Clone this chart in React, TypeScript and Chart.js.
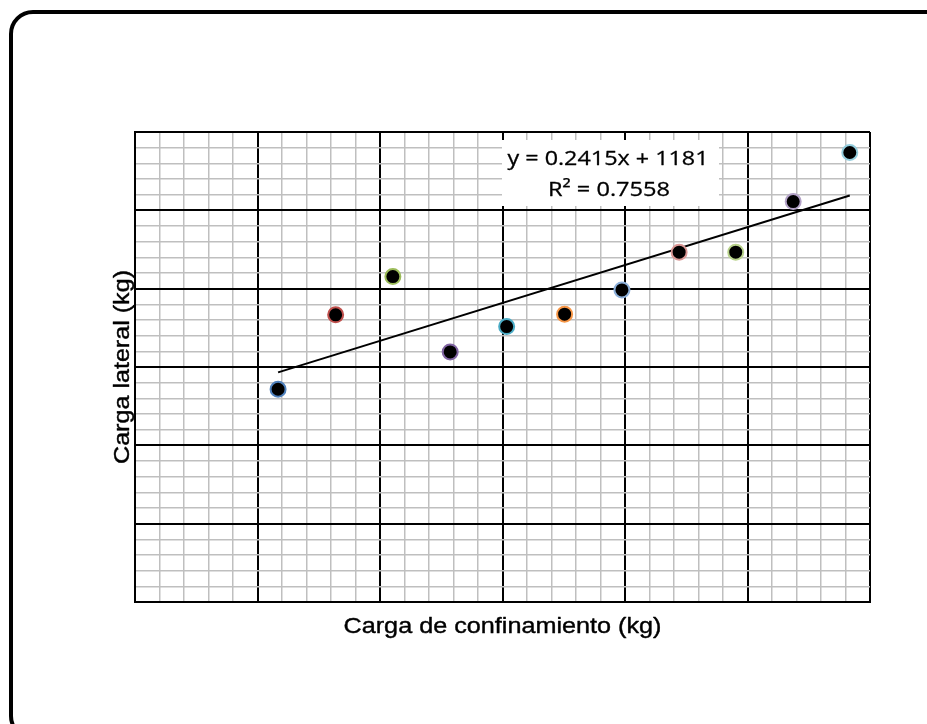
import React, { useEffect, useRef } from "react";
import { Chart, registerables } from "chart.js";

Chart.register(...registerables);

// Carga de confinamiento (kg)
const confinementLoad = [1168, 1638, 2105, 2573, 3034, 3507, 3975, 4442, 4904, 5373, 5835];
// Carga lateral (kg)
const lateralLoad = [1358, 1833, 2077, 1596, 1758, 1837, 1992, 2233, 2233, 2556, 2869];
const markerBorderColors = [
  "#4F81BD", "#C0504D", "#9BBB59", "#8064A2", "#4BACC6", "#F79646",
  "#8DB0DA", "#D99694", "#B9D38C", "#B3A2C7", "#93CDDD",
];

const xTitle = "Carga de confinamiento (kg)";
const yTitle = "Carga lateral (kg)";
const equationLine = "y = 0.2415x + 1181";
const r2Line = "R² = 0.7558";

const xRange = [0, 6000];
const yRange = [0, 3000];
const xMajor = 1000;
const xMinor = 200;
const yMajor = 500;
const yMinor = 100;

function regression(xs: number[], ys: number[]) {
  const n = xs.length;
  const mx = xs.reduce((a, b) => a + b, 0) / n;
  const my = ys.reduce((a, b) => a + b, 0) / n;
  let sxy = 0, sxx = 0;
  for (let i = 0; i < n; i++) {
    sxy += (xs[i] - mx) * (ys[i] - my);
    sxx += (xs[i] - mx) * (xs[i] - mx);
  }
  const slope = sxy / sxx;
  return { slope, intercept: my - slope * mx };
}

function drawFitted(
  ctx: CanvasRenderingContext2D,
  text: string,
  cx: number,
  cy: number,
  width: number,
  font: string,
  stroke: number,
  rotate = 0
) {
  ctx.save();
  ctx.font = font;
  const w = ctx.measureText(text).width;
  ctx.translate(cx, cy);
  if (rotate) ctx.rotate(rotate);
  ctx.scale(width / w, 1);
  ctx.textAlign = "center";
  ctx.textBaseline = "alphabetic";
  ctx.fillStyle = "#000";
  ctx.fillText(text, 0, 0);
  if (stroke > 0) {
    ctx.strokeStyle = "#000";
    ctx.lineWidth = stroke;
    ctx.lineJoin = "round";
    ctx.strokeText(text, 0, 0);
  }
  ctx.restore();
}

const annotationPlugin = {
  id: "annotations",
  beforeDatasetsDraw(chart: any) {
    const { ctx, chartArea: a } = chart;
    ctx.save();
    ctx.fillStyle = "#fff";
    ctx.fillRect(a.left + 367, a.top + 8, 217, 66);
    ctx.restore();
  },
  afterDraw(chart: any) {
    const { ctx, chartArea: a } = chart;
    const cx = (a.left + a.right) / 2;
    const cy = (a.top + a.bottom) / 2;
    const titleFont = "22px 'Liberation Sans', Arial, sans-serif";
    drawFitted(ctx, xTitle, cx, a.bottom + 31, 318, titleFont, 0.4);
    drawFitted(ctx, yTitle, a.left - 6, cy, 194, titleFont, 0.4, -Math.PI / 2);
    const eqFont = "20px 'Open Sans', sans-serif";
    drawFitted(ctx, equationLine, a.left + 473, a.top + 33, 201, eqFont, 0.3);
    drawFitted(ctx, r2Line, a.left + 474, a.top + 64, 122, eqFont, 0.3);
  },
};

export default function App() {
  const canvasRef = useRef<HTMLCanvasElement | null>(null);

  useEffect(() => {
    if (!canvasRef.current) return;
    const { slope, intercept } = regression(confinementLoad, lateralLoad);
    const xMin = Math.min(...confinementLoad);
    const xMax = Math.max(...confinementLoad);
    const points = confinementLoad.map((x, i) => ({ x, y: lateralLoad[i] }));

    const chart = new Chart(canvasRef.current, {
      type: "scatter",
      data: {
        datasets: [
          {
            data: points,
            backgroundColor: "#000",
            borderColor: markerBorderColors,
            borderWidth: 2,
            pointRadius: 7.5,
            pointHoverRadius: 7.5,
          },
          {
            data: [
              { x: xMin, y: slope * xMin + intercept },
              { x: xMax, y: slope * xMax + intercept },
            ],
            showLine: true,
            borderColor: "#000",
            borderWidth: 2,
            pointRadius: 0,
            fill: false,
          } as any,
        ],
      },
      options: {
        responsive: false,
        animation: false,
        devicePixelRatio: 1,
        layout: { padding: { left: 135, top: 132, right: 57, bottom: 122 } },
        plugins: { legend: { display: false }, tooltip: { enabled: false } },
        scales: {
          x: {
            type: "linear",
            min: xRange[0],
            max: xRange[1],
            ticks: { display: false, stepSize: xMinor, maxTicksLimit: 1000 },
            grid: {
              drawTicks: false,
              color: (c: any) => (c.tick && c.tick.value % xMajor === 0 ? "#000" : "#BFBFBF"),
              lineWidth: (c: any) => (c.tick && c.tick.value % xMajor === 0 ? 2 : 1.5),
            },
            border: { display: true, color: "#000", width: 2 },
          },
          y: {
            type: "linear",
            min: yRange[0],
            max: yRange[1],
            ticks: { display: false, stepSize: yMinor, maxTicksLimit: 1000 },
            grid: {
              drawTicks: false,
              color: (c: any) => (c.tick && c.tick.value % yMajor === 0 ? "#000" : "#BFBFBF"),
              lineWidth: (c: any) => (c.tick && c.tick.value % yMajor === 0 ? 2 : 1.5),
            },
            border: { display: true, color: "#000", width: 2 },
          },
        },
      },
      plugins: [annotationPlugin],
    });
    return () => chart.destroy();
  }, []);

  return (
    <div>
      <div
        style={{
          position: "fixed",
          left: 9,
          top: 10,
          width: 945,
          height: 730,
          border: "4px solid #000",
          borderRadius: 24,
          boxSizing: "border-box",
        }}
      />
      <canvas
        ref={canvasRef}
        width={927}
        height={724}
        style={{ position: "fixed", left: 0, top: 0, width: 927, height: 724 }}
      />
    </div>
  );
}
